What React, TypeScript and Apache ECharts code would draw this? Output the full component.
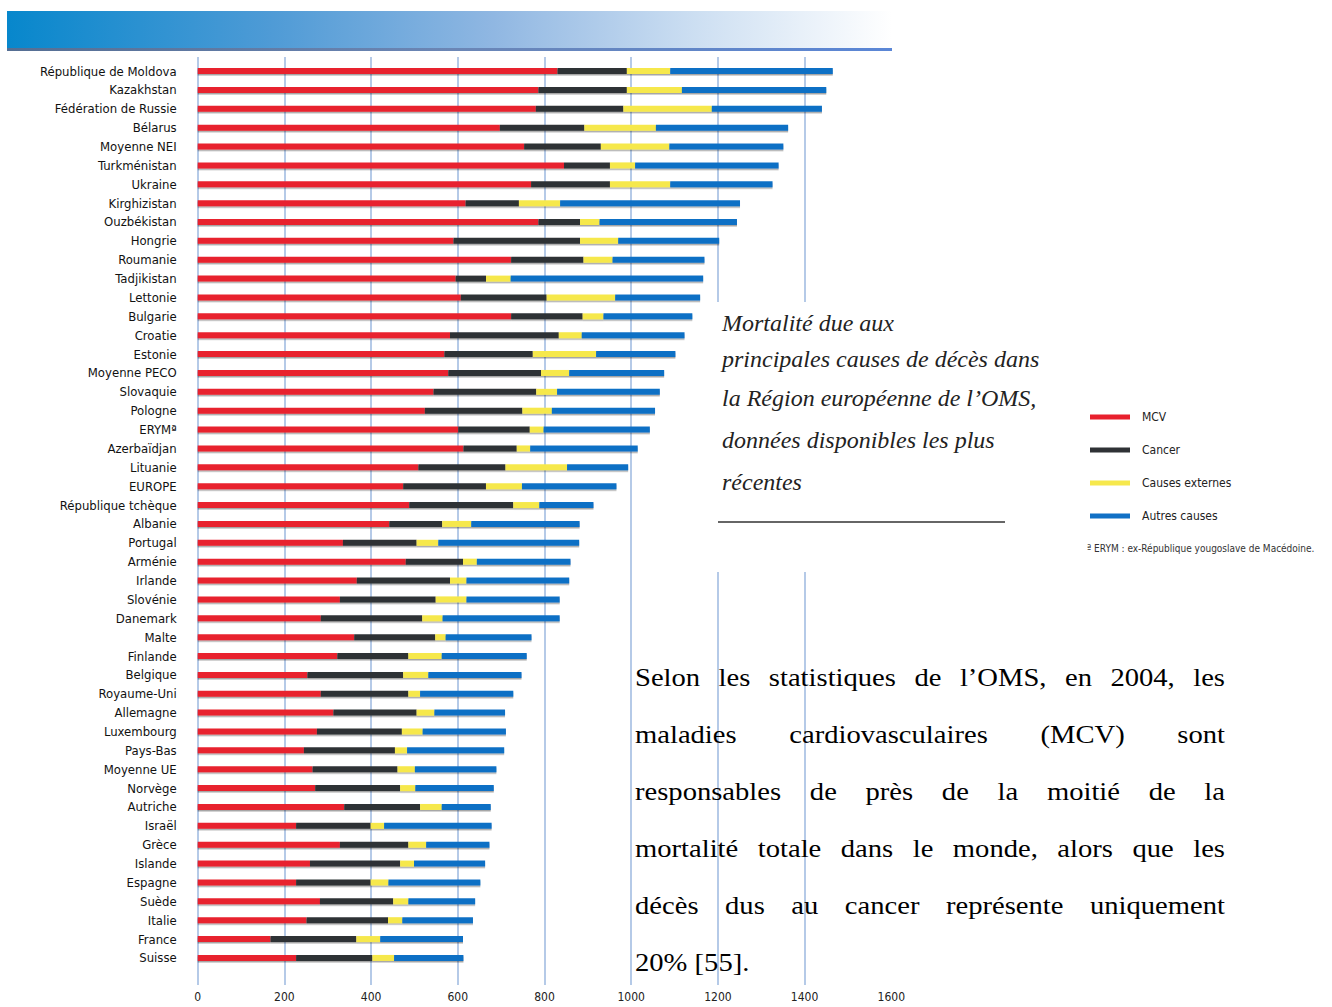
import React, { useEffect, useRef } from "react";
import * as echarts from "echarts";

const countries = [
  "République de Moldova", "Kazakhstan", "Fédération de Russie", "Bélarus", "Moyenne NEI",
  "Turkménistan", "Ukraine", "Kirghizistan", "Ouzbékistan", "Hongrie", "Roumanie",
  "Tadjikistan", "Lettonie", "Bulgarie", "Croatie", "Estonie", "Moyenne PECO", "Slovaquie",
  "Pologne", "ERYMª", "Azerbaïdjan", "Lituanie", "EUROPE", "République tchèque", "Albanie",
  "Portugal", "Arménie", "Irlande", "Slovénie", "Danemark", "Malte", "Finlande", "Belgique",
  "Royaume-Uni", "Allemagne", "Luxembourg", "Pays-Bas", "Moyenne UE", "Norvège", "Autriche",
  "Israël", "Grèce", "Islande", "Espagne", "Suède", "Italie", "France", "Suisse",
];

const mcv = [
  830, 786, 780, 697, 753, 845, 769, 618, 786, 590, 723, 595, 607, 723, 582, 569, 578, 544,
  524, 601, 613, 509, 474, 488, 442, 335, 480, 367, 328, 284, 361, 322, 253, 284, 313, 275,
  245, 265, 271, 338, 227, 328, 259, 227, 282, 251, 168, 227,
];
const cancer = [
  160, 204, 202, 195, 177, 106, 182, 123, 96, 292, 167, 70, 198, 165, 251, 204, 214, 237,
  225, 165, 123, 201, 191, 240, 122, 170, 132, 215, 221, 234, 187, 164, 221, 202, 192, 196,
  210, 196, 196, 175, 172, 158, 208, 172, 169, 188, 198, 176,
];
const externes = [
  100, 127, 204, 165, 158, 58, 139, 95, 45, 88, 67, 57, 158, 48, 53, 146, 65, 48,
  68, 32, 31, 142, 83, 60, 67, 50, 32, 38, 71, 47, 24, 77, 58, 27, 41, 48,
  28, 40, 35, 50, 31, 41, 32, 41, 35, 33, 55, 50,
];
const autres = [
  375, 333, 254, 305, 263, 331, 236, 415, 317, 233, 212, 444, 196, 205, 237, 183, 219, 237,
  238, 245, 248, 141, 218, 125, 250, 325, 216, 237, 215, 270, 198, 196, 215, 215, 163, 192,
  224, 188, 181, 113, 248, 146, 164, 212, 154, 163, 191, 160,
];

const seriesNames = ["MCV", "Cancer", "Causes externes", "Autres causes"];
const seriesColors = ["#e8202d", "#2f3235", "#f6e84c", "#1170c5"];

const titleLines = [
  "Mortalité due aux",
  "principales causes de décès dans",
  "la Région européenne de l’OMS,",
  "données disponibles les plus",
  "récentes",
];

const paragraphLines = [
  "Selon les statistiques de l’OMS, en 2004, les",
  "maladies cardiovasculaires (MCV) sont",
  "responsables de près de la moitié de la",
  "mortalité totale dans le monde, alors que les",
  "décès dus au cancer représente uniquement",
  "20% [55].",
];

const footnote = "ª ERYM : ex-République yougoslave de Macédoine.";

const PX0 = 197.7;
const PXW = 693.6;
const ROW_TOP = 61.6;
const ROW_H = 18.87;
const SANS = "'Liberation Sans Narrow', 'DejaVu Sans Condensed', 'Noto Sans', sans-serif";

function buildParagraph(): any[] {
  const font = "26px 'Liberation Serif', 'Times New Roman', serif";
  const sx = 1.1;
  const canvas = document.createElement("canvas");
  const ctx = canvas.getContext("2d")!;
  ctx.font = font;
  const left = 635;
  const right = 1225;
  const y0 = 677;
  const dy = 57;
  const els: any[] = [];
  const mk = (text: string, x: number, y: number) => ({
    type: "text", x, y, z: 110, scaleX: sx,
    style: { text, font, fill: "#000", textAlign: "left", textVerticalAlign: "middle" },
  });
  paragraphLines.forEach((line, i) => {
    const y = y0 + i * dy;
    const last = i === paragraphLines.length - 1;
    const words = line.split(" ");
    if (last || words.length < 2) {
      els.push(mk(line, left, y));
      return;
    }
    const widths = words.map((w) => ctx.measureText(w).width * sx);
    const total = widths.reduce((a, b) => a + b, 0);
    const gap = Math.max(6, (right - left - total) / (words.length - 1));
    let x = left;
    words.forEach((w, k) => {
      els.push(mk(w, x, y));
      x += widths[k] + gap;
    });
  });
  return els;
}

export default function App() {
  const ref = useRef<HTMLDivElement>(null);
  useEffect(() => {
    const chart = echarts.init(ref.current!, null, { renderer: "svg" });
    const dataArrays = [mcv, cancer, externes, autres];
    const titleY = [323, 359, 398, 440, 482];
    const option: any = {
      animation: false,
      backgroundColor: "#ffffff",
      legend: {
        orient: "vertical",
        left: 1085,
        top: 405,
        z: 120,
        itemWidth: 40,
        itemHeight: 5,
        itemGap: 19,
        icon: "rect",
        data: seriesNames,
        textStyle: {
          fontFamily: SANS,
          fontSize: 12,
          color: "#222",
          lineHeight: 14,
          padding: [0, 0, 0, 7],
        },
      },
      grid: [
        { left: PX0, width: PXW, top: ROW_TOP, height: ROW_H * countries.length, containLabel: false },
        { left: PX0, width: PXW, top: 57, height: 928, containLabel: false },
      ],
      xAxis: [
        { gridIndex: 0, type: "value", min: 0, max: 1600, interval: 200, show: false },
        {
          gridIndex: 1, type: "value", min: 0, max: 1600, interval: 200,
          axisLine: { show: false }, axisTick: { show: false },
          splitLine: { show: true, showMaxLine: false, lineStyle: { color: "#a3bde2", width: 1.6 } },
          axisLabel: {
            margin: 6,
            fontFamily: SANS,
            fontSize: 12, color: "#222",
            formatter: (v: number) => String(v),
          },
        },
      ],
      yAxis: [
        {
          gridIndex: 0, type: "category", data: countries, inverse: true,
          axisLine: { show: false }, axisTick: { show: false }, splitLine: { show: false },
          axisLabel: {
            margin: 21,
            fontFamily: SANS,
            fontSize: 13, color: "#111",
          },
        },
        { gridIndex: 1, type: "value", show: false, min: 0, max: 1 },
      ],
      series: seriesNames.map((name, i) => ({
        name,
        type: "bar",
        stack: "total",
        xAxisIndex: 0,
        yAxisIndex: 0,
        barWidth: 6,
        data: dataArrays[i],
        itemStyle: {
          color: seriesColors[i],
          shadowColor: "rgba(0,0,0,0.35)",
          shadowOffsetY: 1.5,
          shadowBlur: 1,
        },
      })),
      graphic: [
        {
          type: "rect", z: 100,
          shape: { x: 7, y: 11, width: 885, height: 38 },
          style: {
            fill: new echarts.graphic.LinearGradient(0, 0, 1, 0, [
              { offset: 0, color: "#0787cc" },
              { offset: 0.3, color: "#4f9bd6" },
              { offset: 0.55, color: "#90b7e2" },
              { offset: 0.78, color: "#cddff2" },
              { offset: 1, color: "#ffffff" },
            ]),
          },
        },
        {
          type: "rect", z: 100,
          shape: { x: 7, y: 48, width: 885, height: 3 },
          style: {
            fill: new echarts.graphic.LinearGradient(0, 0, 1, 0, [
              { offset: 0, color: "#556e93" },
              { offset: 0.5, color: "#6b86b5" },
              { offset: 1, color: "#5a86d6" },
            ]),
          },
        },
        {
          type: "rect", z: 100,
          shape: { x: 715, y: 302, width: 617, height: 270 },
          style: { fill: "#ffffff" },
        },
        ...titleLines.map((t, i) => ({
          type: "text", x: 722, y: titleY[i], z: 110,
          style: {
            text: t,
            font: "italic 24px 'Liberation Serif', 'Times New Roman', serif",
            fill: "#222",
            textAlign: "left",
            textVerticalAlign: "middle",
          },
        })),
        {
          type: "line", z: 110,
          shape: { x1: 718, y1: 522, x2: 1005, y2: 522 },
          style: { stroke: "#333", lineWidth: 1.5 },
        },
        {
          type: "text", x: 1087, y: 548, z: 110,
          style: {
            text: footnote,
            font: "10px " + SANS,
            fill: "#333",
            textAlign: "left",
            textVerticalAlign: "middle",
          },
        },
        ...buildParagraph(),
      ],
    };
    chart.setOption(option);
    return () => chart.dispose();
  }, []);
  return <div ref={ref} style={{ width: 1332, height: 1007, position: "absolute", left: 0, top: 0 }} />;
}
